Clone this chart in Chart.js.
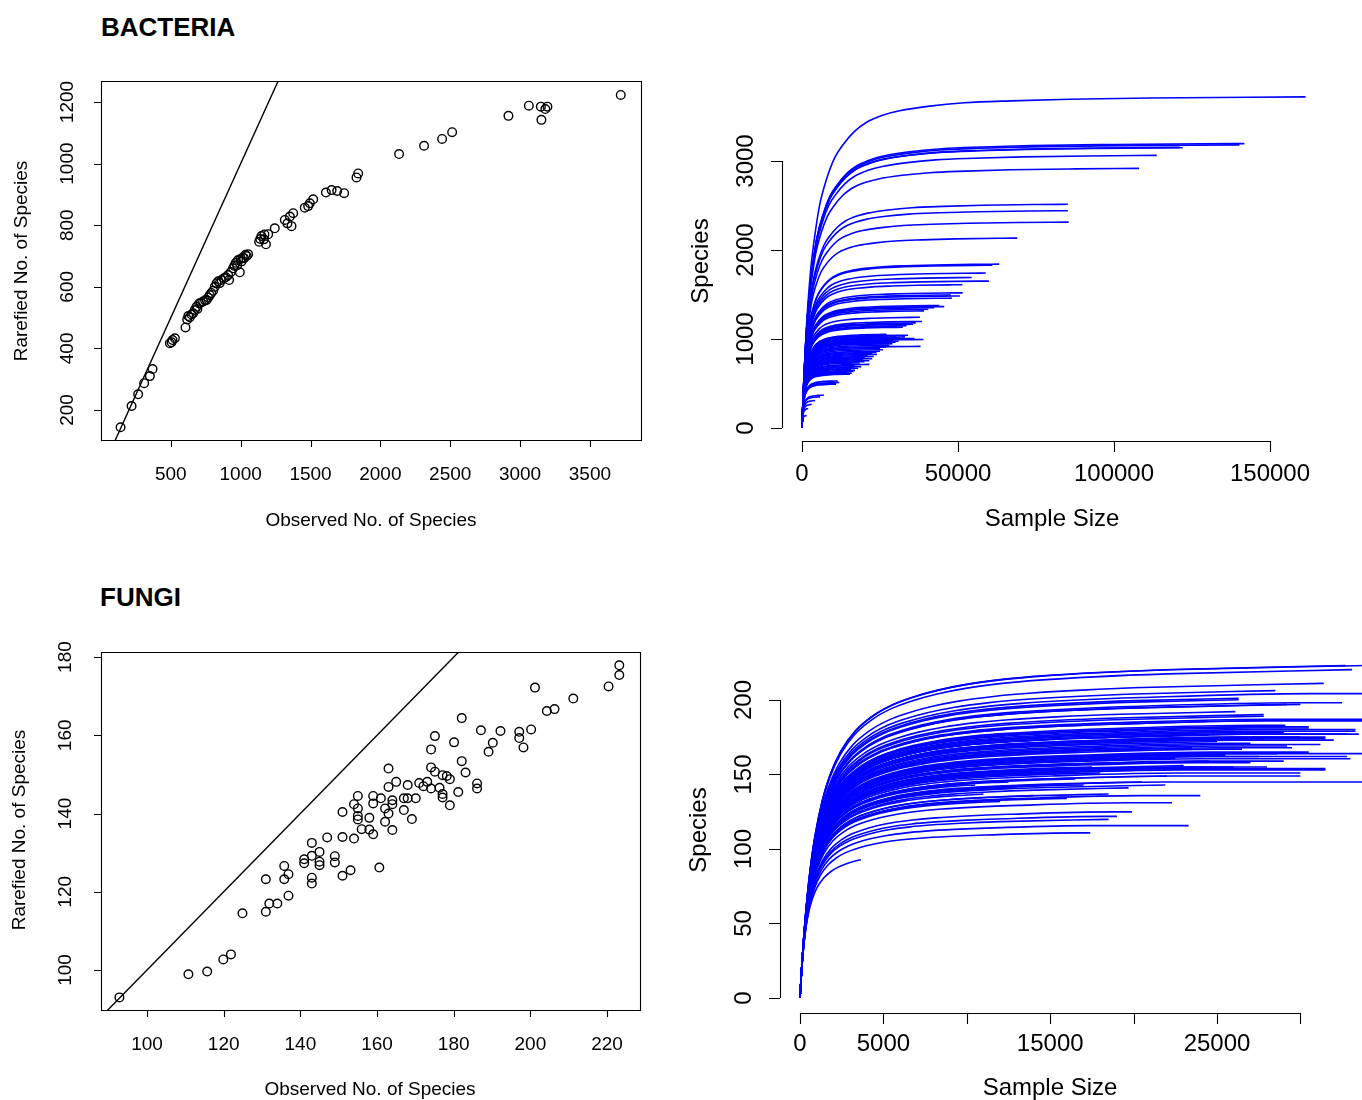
<!DOCTYPE html>
<html>
<head>
<meta charset="utf-8">
<script src="https://cdn.jsdelivr.net/npm/chart.js@4.4.1/dist/chart.umd.min.js"></script>
<style>
html, body { margin: 0; padding: 0; background: #fff; overflow: hidden; width: 1362px; height: 1100px; }
canvas { position: absolute; left: 0; top: 0; }
.ttl { position: absolute; font: bold 26px "Liberation Sans", Arial, sans-serif; line-height: 30px; color: #000; }
</style>
</head>
<body>
<div class="ttl" style="left:101px;top:12px">BACTERIA</div>
<div class="ttl" style="left:100px;top:582px">FUNGI</div>
<canvas id="bactScatter" width="1400" height="1100"></canvas>
<canvas id="bactCurves" width="1400" height="1100"></canvas>
<canvas id="fungScatter" width="1400" height="1100"></canvas>
<canvas id="fungCurves" width="1400" height="1100"></canvas>
<script>
// ---- bacteria: one entry per sample ----
const bacteriaObserved = [140, 219, 266, 309, 350, 369, 493, 512, 529, 505, 605, 617, 625, 636, 648, 660, 672, 684, 690, 703,
  715, 731, 745, 756, 768, 779, 790, 803, 815, 827, 839, 850, 863, 880, 894, 910, 917, 930, 946, 955,
  965, 975, 982, 994, 1000, 1006, 1015, 1024, 1035, 1043, 1053, 1132, 1140, 1149, 1166, 1181, 1170, 1197, 1244, 1316,
  1335, 1352, 1364, 1376, 1459, 1483, 1495, 1519, 1610, 1651, 1691, 1741, 1829, 1841, 2134, 2313, 2442, 2514, 2917, 3063,
  3149, 3153, 3181, 3196, 3721];
const bacteriaRarefied = [144, 213, 251, 287, 310, 333, 417, 427, 433, 420, 468, 494, 505, 501, 510, 514, 525, 535, 528, 546,
  548, 552, 556, 557, 565, 573, 580, 587, 600, 611, 618, 612, 622, 628, 631, 638, 622, 648, 660, 668,
  678, 670, 687, 647, 690, 682, 695, 693, 704, 700, 706, 746, 755, 765, 754, 738, 770, 771, 790, 817,
  806, 828, 797, 839, 857, 862, 871, 884, 906, 914, 911, 904, 955, 968, 1031, 1058, 1080, 1102, 1155, 1188,
  1185, 1142, 1177, 1185, 1223];
const bacteriaSampleSize = [1500, 2000, 3100, 4200, 5800, 7000, 10900, 12000, 11500, 11000, 15400, 15900, 14500, 16500, 17000, 15800, 18000, 16800, 19000, 17000,
  21600, 18500, 20000, 21600, 19500, 22500, 20200, 23000, 21000, 24000, 22500, 23900, 25000, 26000, 25000, 27000, 38000, 28000, 29000, 27500,
  30000, 31000, 29500, 38900, 32000, 36000, 31400, 33000, 30300, 34000, 27100, 32300, 30500, 33500, 35600, 36500, 34000, 38500, 37800, 39100,
  40500, 42400, 45600, 44000, 48000, 50600, 47700, 51500, 51400, 59900, 54400, 58900, 61000, 63200, 69000, 85500, 85200, 85200, 108000, 113700,
  122000, 121000, 140200, 141800, 161400];
// shape of the rarefaction curve (fraction of final richness vs reads per species)
const bacteriaShapeU = [0, 0.1, 0.2, 0.4, 0.6, 0.8, 1.1, 1.5, 2.1, 2.8, 3.5, 4.5, 5.5, 7, 8.4, 11, 14, 18, 23, 30, 43];
const bacteriaShapeP = [0, 0.098, 0.18, 0.315, 0.416, 0.496, 0.58, 0.67, 0.75, 0.815, 0.854, 0.895, 0.922, 0.945, 0.958, 0.972, 0.982, 0.988, 0.993, 0.9965, 1.0];

// ---- fungi ----
const fungiObserved = [92.8, 110.8, 115.7, 119.9, 121.9, 124.9, 131.0, 131.9, 134.0, 131.0, 135.8, 136.9, 135.8, 136.9, 141.0, 141.0, 143.0, 143.0, 143.0, 143.0,
  145.0, 145.0, 145.0, 147.0, 149.0, 149.0, 151.0, 151.0, 153.1, 154.0, 151.0, 154.0, 155.0, 155.0, 155.0, 155.0, 156.0, 158.0, 158.0, 159.0,
  159.0, 159.0, 160.6, 161.0, 163.0, 163.0, 164.0, 164.0, 162.1, 163.0, 162.1, 164.0, 165.0, 167.0, 168.0, 168.0, 167.0, 169.1, 170.1, 171.0,
  172.1, 173.1, 174.1, 174.1, 175.1, 174.1, 175.1, 176.3, 177.1, 178.2, 177.1, 177.1, 179.0, 179.0, 180.1, 181.2, 182.1, 182.1, 183.1, 186.1,
  186.1, 187.1, 189.1, 190.2, 192.2, 197.1, 197.1, 198.2, 200.2, 201.2, 204.3, 206.3, 211.2, 220.4, 223.2, 223.2];
const fungiRarefied = [93.0, 98.9, 99.6, 102.7, 104.0, 114.5, 114.9, 117.0, 117.0, 123.2, 126.6, 124.5, 123.2, 119.0, 128.3, 127.3, 132.5, 129.2, 123.6, 122.1,
  130.2, 127.7, 126.8, 133.9, 129.1, 127.5, 134.0, 124.1, 125.5, 133.6, 140.4, 142.4, 144.5, 141.3, 139.4, 138.5, 136.0, 138.9, 135.9, 134.7,
  144.5, 142.6, 126.2, 143.9, 151.5, 146.8, 143.4, 142.4, 141.3, 140.0, 137.9, 135.8, 148.1, 143.9, 147.3, 143.9, 140.9, 138.6, 143.9, 147.8,
  147.0, 148.1, 146.4, 151.8, 150.7, 156.4, 159.8, 146.6, 149.8, 149.6, 145.0, 144.1, 148.8, 142.1, 158.2, 145.5, 153.4, 164.4, 150.5, 147.7,
  146.4, 161.3, 155.8, 158.1, 161.1, 160.9, 159.3, 156.9, 161.5, 172.2, 166.2, 166.7, 169.4, 172.5, 177.9, 175.4];
const fungiSampleSize = [3650, 17400, 23300, 18500, 19000, 19900, 22300, 12000, 16000, 9000, 24000, 18500, 14000, 11000, 19700, 13000, 21900, 17000, 10500, 15500,
  20500, 12500, 36000, 16500, 30000, 22000, 30000, 14000, 31500, 25000, 18000, 31500, 26000, 21000, 17500, 28000, 23000, 20000, 27000, 15000,
  24500, 29000, 33000, 22500, 19500, 25500, 36000, 28600, 32800, 21500, 27500, 24000, 30500, 26500, 23500, 29500, 20500, 29200, 31200, 27000,
  25000, 32000, 31500, 28000, 31500, 26500, 30000, 24500, 32800, 29000, 27500, 33500, 33300, 26000, 33300, 30500, 29000, 30500, 29100, 35000,
  34500, 36000, 27800, 27800, 26100, 29200, 30000, 32500, 26300, 26300, 35000, 28500, 31400, 33100, 32700, 34000];
const fungiShapeU = [0, 0.5, 1, 2, 3, 4, 6, 8, 11, 15, 20, 25, 30, 37, 45, 55, 65, 80, 100, 150];
const fungiShapeP = [0, 0.099, 0.182, 0.312, 0.41, 0.485, 0.594, 0.668, 0.742, 0.804, 0.851, 0.882, 0.903, 0.925, 0.943, 0.958, 0.968, 0.978, 0.987, 1.0];

// ---- axis ticks ----
const bactScatterXTicks = [500, 1000, 1500, 2000, 2500, 3000, 3500];
const bactScatterYTicks = [200, 400, 600, 800, 1000, 1200];
const bactCurveXTicks = [0, 50000, 100000, 150000];
const bactCurveYTicks = [0, 1000, 2000, 3000];
const fungScatterXTicks = [100, 120, 140, 160, 180, 200, 220];
const fungScatterYTicks = [100, 120, 140, 160, 180];
const fungCurveXTicks = [0, 5000, 10000, 15000, 20000, 25000, 30000];
const fungCurveXLabels = ['0', '5000', '', '15000', '', '25000', ''];
const fungCurveYTicks = [0, 50, 100, 150, 200];

const FONT = '"Liberation Sans", Arial, sans-serif';

function shapeAt(us, ps, u) {
  if (u >= us[us.length - 1]) return ps[ps.length - 1];
  for (let k = 1; k < us.length; k++) {
    if (u <= us[k]) return ps[k - 1] + (ps[k] - ps[k - 1]) * (u - us[k - 1]) / (us[k] - us[k - 1]);
  }
  return 1;
}

// curve of one sample, scaled so it ends at (sample size, observed species)
function curve(N, S, us, ps) {
  const uEnd = N / S;
  const pEnd = shapeAt(us, ps, uEnd);
  const pts = [];
  for (let k = 0; k < us.length && us[k] < uEnd * 0.97; k++) {
    pts.push({ x: us[k] * S, y: S * ps[k] / pEnd });
  }
  pts.push({ x: N, y: S });
  return pts;
}

const rAxes = {
  id: 'rAxes',
  afterDraw(chart, args, o) {
    const { ctx, chartArea: a, scales: { x, y } } = chart;
    ctx.save();
    ctx.strokeStyle = '#000';
    ctx.fillStyle = '#000';
    ctx.lineWidth = 1.1;
    ctx.beginPath();
    if (o.box) {
      ctx.rect(a.left + 0.5, a.top + 0.5, a.right - a.left, a.bottom - a.top);
    } else {
      ctx.moveTo(x.getPixelForValue(o.xTicks[0]), a.bottom + 0.5);
      ctx.lineTo(x.getPixelForValue(o.xTicks[o.xTicks.length - 1]), a.bottom + 0.5);
      ctx.moveTo(a.left + 0.5, y.getPixelForValue(o.yTicks[0]));
      ctx.lineTo(a.left + 0.5, y.getPixelForValue(o.yTicks[o.yTicks.length - 1]));
    }
    o.xTicks.forEach(v => {
      const p = Math.round(x.getPixelForValue(v)) + 0.5;
      ctx.moveTo(p, a.bottom);
      ctx.lineTo(p, a.bottom + o.tickLen);
    });
    o.yTicks.forEach(v => {
      const p = Math.round(y.getPixelForValue(v)) + 0.5;
      ctx.moveTo(a.left, p);
      ctx.lineTo(a.left - o.tickLen, p);
    });
    ctx.stroke();

    ctx.font = o.fontSize + 'px ' + FONT;
    ctx.textAlign = 'center';
    ctx.textBaseline = 'middle';
    o.xTicks.forEach((v, i) => {
      const lbl = o.xLabels ? o.xLabels[i] : String(v);
      if (lbl) ctx.fillText(lbl, x.getPixelForValue(v), a.bottom + o.xLabOff);
    });
    o.yTicks.forEach(v => {
      ctx.save();
      ctx.translate(a.left - o.yLabOff, y.getPixelForValue(v));
      ctx.rotate(-Math.PI / 2);
      ctx.fillText(String(v), 0, 0);
      ctx.restore();
    });
    ctx.font = o.titleSize + 'px ' + FONT;
    ctx.fillText(o.xTitle, o.xTitleX, a.bottom + o.xTitleOff);
    ctx.save();
    ctx.translate(a.left - o.yTitleOff, o.yTitleY);
    ctx.rotate(-Math.PI / 2);
    ctx.fillText(o.yTitle, 0, 0);
    ctx.restore();
    ctx.restore();
  }
};

function makeChart(id, area, xr, yr, datasets, axes) {
  return new Chart(document.getElementById(id), {
    type: 'scatter',
    data: { datasets },
    options: {
      responsive: false,
      animation: false,
      events: [],
      layout: { padding: { left: area[0], top: area[1], right: 1400 - area[2], bottom: 1100 - area[3] } },
      scales: {
        x: { type: 'linear', min: xr[0], max: xr[1], display: false },
        y: { type: 'linear', min: yr[0], max: yr[1], display: false }
      },
      plugins: { legend: { display: false }, tooltip: { enabled: false }, rAxes: axes }
    },
    plugins: [rAxes]
  });
}

function scatterSets(obs, rar) {
  return [
    {
      data: obs.map((v, i) => ({ x: v, y: rar[i] })),
      pointStyle: 'circle', pointRadius: 4.3, borderWidth: 1.4,
      borderColor: '#000', backgroundColor: 'rgba(0,0,0,0)'
    },
    {
      data: [{ x: 0, y: 0 }, { x: 5000, y: 5000 }],
      showLine: true, pointRadius: 0, borderColor: '#000', borderWidth: 1.4
    }
  ];
}

function curveSets(N, S, us, ps) {
  return N.map((n, i) => ({
    data: curve(n, S[i], us, ps),
    showLine: true, pointRadius: 0, borderColor: '#0000ff', borderWidth: 1.6,
    cubicInterpolationMode: 'monotone'
  }));
}

makeChart('bactScatter', [101, 81, 641, 440], [0, 3866], [102.6, 1268.2],
  scatterSets(bacteriaObserved, bacteriaRarefied),
  { box: true, xTicks: bactScatterXTicks, yTicks: bactScatterYTicks, tickLen: 7, fontSize: 19, titleSize: 19,
    xLabOff: 35, yLabOff: 33, xTitle: 'Observed No. of Species', xTitleX: 371, xTitleOff: 81,
    yTitle: 'Rarefied No. of Species', yTitleOff: 79, yTitleY: 261 });

makeChart('bactCurves', [782, 82, 1326, 441], [-6410, 167949], [-146, 3888],
  curveSets(bacteriaSampleSize, bacteriaObserved, bacteriaShapeU, bacteriaShapeP),
  { box: false, xTicks: bactCurveXTicks, yTicks: bactCurveYTicks, tickLen: 11, fontSize: 24, titleSize: 24,
    xLabOff: 33, yLabOff: 36, xTitle: 'Sample Size', xTitleX: 1052, xTitleOff: 78,
    yTitle: 'Species', yTitleOff: 81, yTitleY: 261 });

makeChart('fungScatter', [101, 652, 640, 1010], [88.0, 228.6], [89.78, 181.3],
  scatterSets(fungiObserved, fungiRarefied),
  { box: true, xTicks: fungScatterXTicks, yTicks: fungScatterYTicks, tickLen: 7, fontSize: 19, titleSize: 19,
    xLabOff: 35, yLabOff: 35, xTitle: 'Observed No. of Species', xTitleX: 370, xTitleOff: 80,
    yTitle: 'Rarefied No. of Species', yTitleOff: 81, yTitleY: 830 });

makeChart('fungCurves', [780, 651, 1400, 1013], [-1199, 35971], [-10.1, 232.9],
  curveSets(fungiSampleSize, fungiObserved, fungiShapeU, fungiShapeP),
  { box: false, xTicks: fungCurveXTicks, xLabels: fungCurveXLabels, yTicks: fungCurveYTicks, tickLen: 11, fontSize: 24, titleSize: 24,
    xLabOff: 31, yLabOff: 36, xTitle: 'Sample Size', xTitleX: 1050, xTitleOff: 75,
    yTitle: 'Species', yTitleOff: 81, yTitleY: 830 });
</script>
</body>
</html>
